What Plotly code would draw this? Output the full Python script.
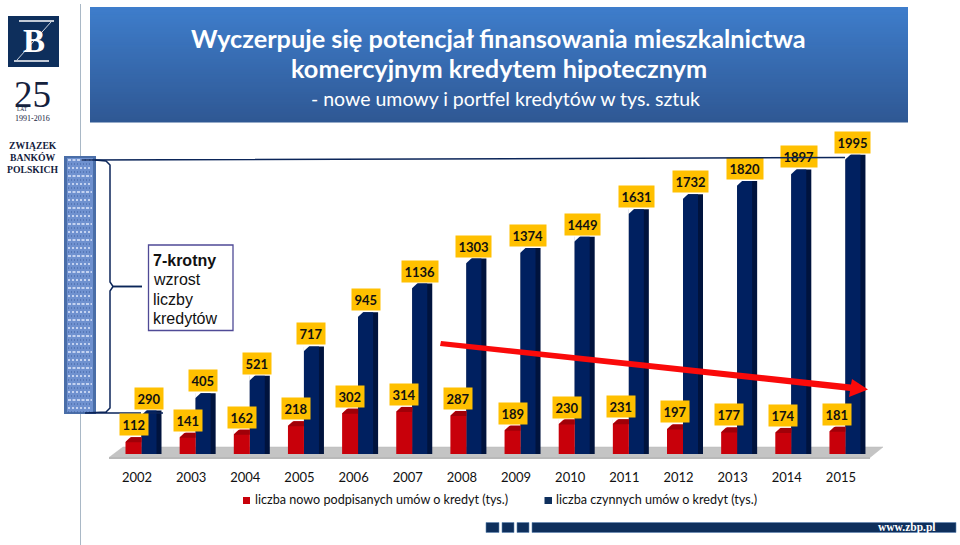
import plotly.graph_objects as go

years = list(range(2002, 2016))
new_loans = [112, 141, 162, 218, 302, 314, 287, 189, 230, 231, 197, 177, 174, 181]
active_loans = [290, 405, 521, 717, 945, 1136, 1303, 1374, 1449, 1631, 1732, 1820, 1897, 1995]
name_new = "liczba nowo podpisanych umów o kredyt (tys.)"
name_active = "liczba czynnych umów o kredyt (tys.)"

W, H = 960, 545
L, R, T, B = 110, 870, 0, 454
PITCH = 54.15
SCALE = 0.15
FONT = "Lato"
SERIF = "Liberation Serif"
RED, NAVY, NAVY_SIDE = "#c8000a", "#002060", "#00133d"

def fx(p): return (p - L) / (R - L)
def fy(p): return (B - p) / (B - T)
def rect(x0, y0, x1, y1, fill, line=None, lw=0, layer="below"):
    return dict(type="rect", xref="paper", yref="paper", x0=fx(x0), x1=fx(x1), y0=fy(y0), y1=fy(y1),
                fillcolor=fill, line=dict(color=line or fill, width=lw), layer=layer)
def path(pts, fill=None, line="rgba(0,0,0,0)", lw=0, layer="below", close=True):
    d = "M " + " L ".join(f"{fx(x):.5f},{fy(y):.5f}" for x, y in pts) + (" Z" if close else "")
    s = dict(type="path", xref="paper", yref="paper", path=d, line=dict(color=line, width=lw), layer=layer)
    if fill: s["fillcolor"] = fill
    return s
def txt(x, y, s, size, color="#000", bold=False, family=FONT, anchor="center", **k):
    if bold: s = f"<b>{s}</b>"
    return dict(xref="paper", yref="paper", x=fx(x), y=fy(y), text=s, showarrow=False, xanchor=anchor,
                yanchor="middle", font=dict(size=size, color=color, family=family), **k)

def mix(a, b, t):
    return "rgb(" + ",".join(str(round(a[i] + (b[i] - a[i]) * t)) for i in range(3)) + ")"

shapes, ann = [], []
# header panel with vertical gradient
n = 46
for i in range(n):
    y0 = 7 + (122 - 7) * i / n
    y1 = 7 + (122 - 7) * (i + 1) / n + 0.4
    shapes.append(rect(90, y0, 908, y1, mix((62, 125, 203), (47, 88, 148), i / (n - 1))))
# separator
shapes.append(dict(type="line", xref="paper", yref="paper", x0=fx(80.5), x1=fx(80.5), y0=fy(4), y1=fy(545),
                   line=dict(color="#a9b8c6", width=1), layer="below"))
# logo
shapes.append(rect(8, 16, 59, 67, "#0e2f5c"))
for (a, b) in [((19, 21), (54, 21)), ((14, 61), (49, 61))]:
    shapes.append(path([a, b], line="white", lw=1.6, close=False))
shapes.append(path([(51, 22), (17, 60)], line="white", lw=0.8, close=False))
ann.append(txt(33.5, 41, "B", 33, "white", True, SERIF))
ann.append(txt(32, 94, "25", 37, "#14213d", False, SERIF))
ann.append(txt(22.5, 108.5, "LAT", 5.5, "#14213d", False, SERIF))
ann.append(txt(32.5, 118, "1991-2016", 8, "#14213d", False, SERIF))
for y, s in [(145.5, "ZWIĄZEK"), (157, "BANKÓW"), (169, "POLSKICH")]:
    ann.append(txt(33, y, s, 9.7, "#14213d", True, SERIF))

# textured column
shapes.append(rect(64, 156, 96, 414, "#4a6ea8"))
shapes.append(rect(67, 158, 93, 412, "#6f91cf"))
for i in range(32):
    y = 160 + i * 8
    shapes.append(dict(type="line", xref="paper", yref="paper", x0=fx(68), x1=fx(92), y0=fy(y), y1=fy(y),
                       line=dict(color="#dfe8fb", width=1.6, dash="2px,2px" if i % 2 else "3px,1.5px"), layer="below"))
    shapes.append(dict(type="line", xref="paper", yref="paper", x0=fx(68), x1=fx(92), y0=fy(y + 4), y1=fy(y + 4),
                       line=dict(color="#3f5f9f", width=1, dash="1px,2px"), layer="below"))

# bracket + guide lines
NAVY_LINE = "#0b2559"
shapes.append(path([(95, 160), (106, 161), (110, 165), (110, 282), (113, 286.5), (142, 286.5)], line=NAVY_LINE, lw=1.5, close=False))
shapes.append(path([(142, 286.5), (113, 286.5), (110, 291), (110, 408), (106, 412), (85, 413), (163, 413)], line=NAVY_LINE, lw=1.5, close=False, layer="above"))
# text box
shapes.append(rect(148.5, 245, 233, 330.5, "white", "#4f4a96", 1.3))
for y, s, b in [(260, "7-krotny", True), (279.5, "wzrost", False), (299, "liczby", False), (318.5, "kredytów", False)]:
    ann.append(txt(150.5, y, s, 16, "#111", b, "Liberation Sans", "left"))

# floor
shapes.append(path([(109, 457.5), (123, 447), (883, 447), (870, 457.5)], fill="#c4c4c4", line="#bdbdbd", lw=0.5))
shapes.append(path([(109, 458), (870, 458)], line="#b9b9b9", lw=2, close=False))

# arrow
shapes.append(path([(441, 341), (851, 384.5), (852, 379), (868, 389.5), (849, 397), (850, 391), (440, 346)],
                   fill="#fa0a0a", layer="above"))

# footer
for x0, x1 in [(486, 499), (502, 514), (517, 529), (532, 956)]:
    shapes.append(rect(x0, 522.5, x1, 532.5, "#0e2f5c", "#5f86b3", 0.6))
ann.append(txt(907, 527.5, "www.zbp.pl", 11.5, "white", True, SERIF))

# header text
ann.append(txt(498.5, 37.5, "Wyczerpuje się potencjał finansowania mieszkalnictwa", 25.3, "white", True))
ann.append(txt(499, 68, "komercyjnym kredytem hipotecznym", 25.3, "white", True))
ann.append(txt(505, 98, "- nowe umowy i portfel kredytów w tys. sztuk", 19.5, "white"))

# legend
shapes.append(rect(243, 497, 250, 504, RED))
ann.append(txt(252.5, 499.5, name_new, 12.6, "#111", False, FONT, "left"))
shapes.append(rect(544.5, 497, 552, 504, "#0e2f5c"))
ann.append(txt(553.5, 499.5, name_active, 12.6, "#111", False, FONT, "left"))

# data labels
for xs, vals, dx in [(years, new_loans, -3.5), (years, active_loans, 12)]:
    for yr, v in zip(xs, vals):
        ann.append(dict(x=yr, y=v, xref="x", yref="y", text=f"<b>{v}</b>", showarrow=False, xanchor="center",
                        yanchor="bottom", xshift=dx, yshift=1, bgcolor="#ffc000", borderpad=2.5,
                        font=dict(size=13, color="#111", family=FONT)))

# long guide line passes over the labels
ann.append(dict(xref="paper", yref="paper", axref="pixel", ayref="pixel", x=fx(845), y=fy(157.6), ax=80 - 845, ay=160 - 157.6,
                text="", showarrow=True, arrowhead=0, arrowwidth=1.5, arrowcolor=NAVY_LINE, standoff=0, startstandoff=0))

# bevelled bar tops, derived from the data
RED_L, SPLIT, FRONT_R, SIDE_R = -11.5, 4.5, 19.5, 24.5
def px_of(yr): return 137 + (yr - years[0]) * PITCH
def py_of(v): return B - v * SCALE
for yr, v in zip(years, active_loans):
    x, y = px_of(yr), py_of(v)
    shapes.append(path([(x + SPLIT - 0.5, y - 1), (x + SPLIT + 6, y - 1), (x + SPLIT - 0.5, y + 5)], fill="white", layer="above"))
for yr, v in zip(years, new_loans):
    x, y = px_of(yr), py_of(v)
    shapes.append(path([(x + RED_L - 0.5, y - 1), (x + RED_L + 6, y - 1), (x + RED_L - 0.5, y + 5)], fill="white", layer="above"))
    shapes.append(path([(x + RED_L, y + 5), (x + RED_L + 6, y), (x + SPLIT, y), (x + SPLIT, y + 5)], fill="#a00008", layer="above"))

off = lambda p: p / PITCH
fig = go.Figure()
fig.add_bar(x=years, y=active_loans, width=off(SIDE_R - SPLIT), offset=off(SPLIT),
            marker=dict(color=NAVY_SIDE, line_width=0), showlegend=False, hoverinfo="skip")
fig.add_bar(x=years, y=active_loans, name=name_active, width=off(FRONT_R - SPLIT), offset=off(SPLIT),
            marker=dict(color=NAVY, line_width=0))
fig.add_bar(x=years, y=new_loans, name=name_new, width=off(SPLIT - RED_L), offset=off(RED_L),
            marker=dict(color=RED, line_width=0))

fig.update_layout(
    width=W, height=H, autosize=False, barmode="overlay", paper_bgcolor="white", plot_bgcolor="rgba(0,0,0,0)",
    margin=dict(l=L, r=W - R, t=T, b=H - B, pad=0), showlegend=False,
    font=dict(family=FONT, size=13, color="#111"),
    xaxis=dict(range=[years[0] - (137 - L) / PITCH, years[0] + (R - 137) / PITCH], tickmode="array", tickvals=years,
               ticktext=[str(y) for y in years], showgrid=False, zeroline=False, showline=False,
               ticks="outside", ticklen=11, tickcolor="rgba(0,0,0,0)", tickfont=dict(size=13, family=FONT, color="#111")),
    yaxis=dict(range=[0, B / SCALE], visible=False),
    shapes=shapes, annotations=ann,
)
fig.write_html("out.html", config=dict(displayModeBar=False),
               post_script="document.body.style.margin='0';document.documentElement.style.overflow='hidden';")
